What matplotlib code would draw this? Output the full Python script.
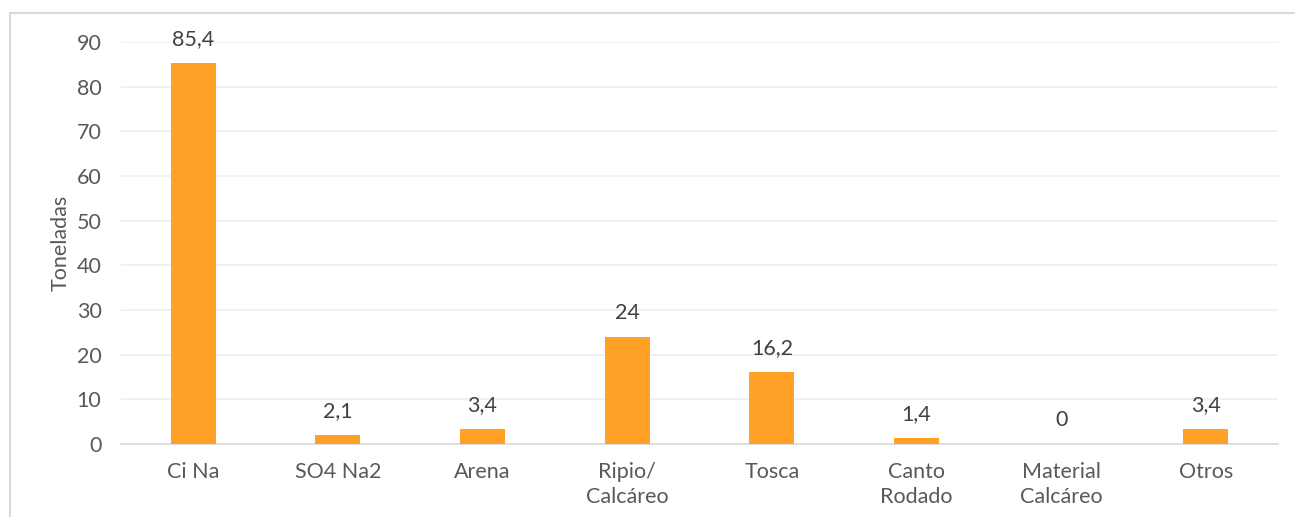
import matplotlib.pyplot as plt
from matplotlib.patches import Rectangle

categories = ["Ci Na", "SO4 Na2", "Arena", "Ripio/\nCalcáreo", "Tosca",
              "Canto\nRodado", "Material\nCalcáreo", "Otros"]
values = [85.4, 2.1, 3.4, 24, 16.2, 1.4, 0, 3.4]
value_labels = ["85,4", "2,1", "3,4", "24", "16,2", "1,4", "0", "3,4"]
yticks = [0, 10, 20, 30, 40, 50, 60, 70, 80, 90]

plt.rcParams['font.family'] = ['Lato', 'DejaVu Sans']
text_color = '#595959'
fs = 15.5

fig = plt.figure(figsize=(12.95, 5.17), dpi=100)
ax = fig.add_axes([0.0934, 0.1412, 0.8935, 0.7776])

x = range(len(categories))
ax.bar(x, values, width=0.31, color='#FFA126', zorder=3)

for xi, v, lab in zip(x, values, value_labels):
    ax.annotate(lab, (xi, v), xytext=(0, 17), textcoords='offset points',
                ha='center', va='center', fontsize=fs, color='#404040')

ax.set_xlim(-0.5, len(categories) - 0.5)
ax.set_ylim(0, 90)
ax.set_yticks(yticks)
ax.set_xticks(list(x))
ax.set_xticklabels(categories, fontsize=fs, color=text_color, linespacing=1.3)
ax.tick_params(axis='y', labelsize=fs, labelcolor=text_color, length=0, pad=14)
ax.tick_params(axis='x', length=0, pad=13)
ax.set_ylabel("Toneladas", fontsize=fs, color=text_color, labelpad=4)

ax.grid(axis='y', color='#EFEFEF', linewidth=1.2, zorder=0)
for side in ['top', 'right', 'left']:
    ax.spines[side].set_visible(False)
ax.spines['bottom'].set_color('#D9D9D9')
ax.spines['bottom'].set_linewidth(1.2)

# outer frame of the chart area
fig.patches.append(Rectangle((10 / 1295, -0.01), 1.0, 1 - 13 / 517 + 0.01,
                             transform=fig.transFigure, fill=False,
                             edgecolor='#D9D9D9', linewidth=1.5))

fig.savefig("out.png", dpi=100)
